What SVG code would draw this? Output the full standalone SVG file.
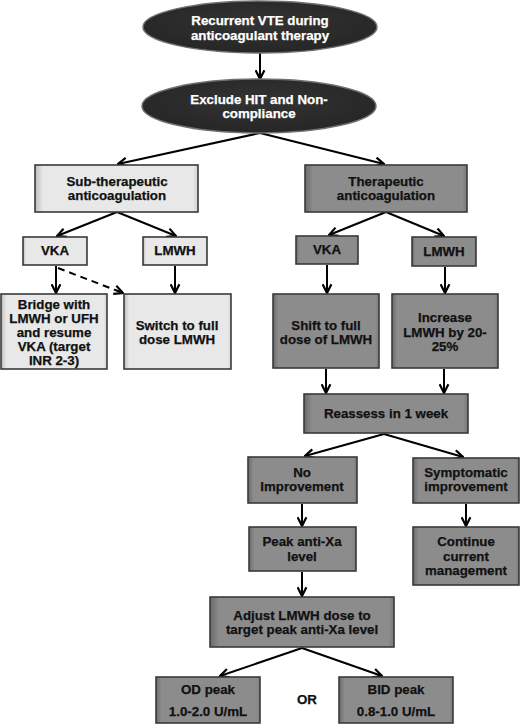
<svg xmlns="http://www.w3.org/2000/svg" width="520" height="724" viewBox="0 0 520 724">
<defs>
<marker id="arr" viewBox="0 0 10 10" refX="9" refY="5" markerWidth="11" markerHeight="11" markerUnits="userSpaceOnUse" orient="auto">
<path d="M1,1 L9,5 L1,9" fill="none" stroke="#000" stroke-width="2"/>
</marker>
<linearGradient id="gDark" x1="0" y1="0" x2="1" y2="0">
<stop offset="0" stop-color="#6a6a6a"/>
<stop offset="0.05" stop-color="#8c8c8c"/>
<stop offset="0.97" stop-color="#8c8c8c"/>
<stop offset="1" stop-color="#787878"/>
</linearGradient>
<linearGradient id="gLight" x1="0" y1="0" x2="1" y2="0">
<stop offset="0" stop-color="#bdbdbd"/>
<stop offset="0.05" stop-color="#e8e8e8"/>
<stop offset="0.97" stop-color="#e8e8e8"/>
<stop offset="1" stop-color="#cfcfcf"/>
</linearGradient>
<radialGradient id="gOval" cx="0.5" cy="0.4" r="0.6">
<stop offset="0" stop-color="#333"/>
<stop offset="1" stop-color="#262626"/>
</radialGradient>
</defs>
<style>
text{font-family:"Liberation Sans",Arial,sans-serif;font-weight:bold;font-size:13.3px;text-anchor:middle;fill:#111;stroke:#111;stroke-width:0.25}
.oval ellipse{fill:url(#gOval);stroke:#707070;stroke-width:1.5}
.oval text{fill:#fff;stroke:#fff}
.light rect{fill:url(#gLight);stroke:#3a3a3a;stroke-width:1.6}
.dark rect{fill:url(#gDark);stroke:#3a3a3a;stroke-width:1.6}
.conn line{stroke:#000;stroke-width:2;marker-end:url(#arr)}
.conn .dash{stroke-dasharray:7,5}
</style>
<rect width="520" height="724" fill="#fff"/>
<g class="conn">
<line x1="260" y1="53" x2="260" y2="79"/>
<line x1="260" y1="133" x2="118" y2="164"/>
<line x1="260" y1="133" x2="384" y2="164"/>
<line x1="117" y1="212" x2="57" y2="236"/>
<line x1="117" y1="212" x2="176" y2="236"/>
<line x1="386" y1="212" x2="329" y2="235"/>
<line x1="386" y1="212" x2="444" y2="236"/>
<line x1="56" y1="266" x2="56" y2="293"/>
<line class="dash" x1="58" y1="268" x2="123" y2="293"/>
<line x1="175" y1="266" x2="175" y2="293"/>
<line x1="327" y1="265" x2="327" y2="293"/>
<line x1="445" y1="267" x2="445" y2="293"/>
<line x1="326" y1="369" x2="326" y2="393"/>
<line x1="444" y1="369" x2="444" y2="393"/>
<line x1="384" y1="434" x2="305" y2="456"/>
<line x1="384" y1="434" x2="463" y2="457"/>
<line x1="302" y1="504" x2="302" y2="526"/>
<line x1="466" y1="504" x2="466" y2="526"/>
<line x1="302" y1="572" x2="302" y2="596"/>
<line x1="302" y1="648" x2="220" y2="676"/>
<line x1="302" y1="648" x2="382" y2="676"/>
</g>
<g id="n-recurrent" class="oval">
<ellipse cx="260" cy="27" rx="117" ry="26"/>
<text x="260" y="25">Recurrent VTE during</text>
<text x="260" y="40">anticoagulant therapy</text>
</g>
<g id="n-exclude" class="oval">
<ellipse cx="259" cy="106" rx="117" ry="27"/>
<text x="259" y="104">Exclude HIT and Non-</text>
<text x="259" y="118">compliance</text>
</g>
<g id="n-sub" class="light">
<rect x="35" y="165" width="163" height="47"/>
<text x="117" y="186">Sub-therapeutic</text>
<text x="117" y="200">anticoagulation</text>
</g>
<g id="n-ther" class="dark">
<rect x="305" y="165" width="162" height="47"/>
<text x="386" y="186">Therapeutic</text>
<text x="386" y="200">anticoagulation</text>
</g>
<g id="n-vka-l" class="light">
<rect x="23" y="237" width="64" height="28"/>
<text x="55" y="255">VKA</text>
</g>
<g id="n-lmwh-l" class="light">
<rect x="143" y="237" width="64" height="28"/>
<text x="175" y="255">LMWH</text>
</g>
<g id="n-vka-r" class="dark">
<rect x="296" y="236" width="62" height="28"/>
<text x="327" y="254">VKA</text>
</g>
<g id="n-lmwh-r" class="dark">
<rect x="412" y="237" width="64" height="29"/>
<text x="444" y="256">LMWH</text>
</g>
<g id="n-bridge" class="light">
<rect x="1" y="294" width="106" height="75"/>
<text x="54" y="308.5">Bridge with</text>
<text x="54" y="322.5">LMWH or UFH</text>
<text x="54" y="336.5">and resume</text>
<text x="54" y="350.5">VKA (target</text>
<text x="54" y="364.5">INR 2-3)</text>
</g>
<g id="n-switch" class="light">
<rect x="124" y="294" width="107" height="75"/>
<text x="177" y="329.5">Switch to full</text>
<text x="177" y="343.5">dose LMWH</text>
</g>
<g id="n-shift" class="dark">
<rect x="273" y="294" width="106" height="74"/>
<text x="326" y="329.5">Shift to full</text>
<text x="326" y="343.5">dose of LMWH</text>
</g>
<g id="n-increase" class="dark">
<rect x="392" y="294" width="106" height="74"/>
<text x="445" y="322">Increase</text>
<text x="445" y="336.5">LMWH by 20-</text>
<text x="445" y="351">25%</text>
</g>
<g id="n-reassess" class="dark">
<rect x="304" y="394" width="164" height="39"/>
<text x="386" y="418">Reassess in 1 week</text>
</g>
<g id="n-noimp" class="dark">
<rect x="248" y="457" width="109" height="46"/>
<text x="302" y="477">No</text>
<text x="302" y="491">Improvement</text>
</g>
<g id="n-symp" class="dark">
<rect x="413" y="458" width="106" height="45"/>
<text x="466" y="477">Symptomatic</text>
<text x="466" y="491">improvement</text>
</g>
<g id="n-peak" class="dark">
<rect x="249" y="527" width="107" height="44"/>
<text x="302" y="546">Peak anti-Xa</text>
<text x="302" y="561">level</text>
</g>
<g id="n-continue" class="dark">
<rect x="413" y="527" width="106" height="58"/>
<text x="466" y="546">Continue</text>
<text x="466" y="561">current</text>
<text x="466" y="575">management</text>
</g>
<g id="n-adjust" class="dark">
<rect x="210" y="597" width="184" height="50"/>
<text x="302" y="620">Adjust LMWH dose to</text>
<text x="302" y="634">target peak anti-Xa level</text>
</g>
<g id="n-od" class="dark">
<rect x="156" y="677" width="104" height="46"/>
<text x="208" y="694">OD peak</text>
<text x="208" y="716">1.0-2.0 U/mL</text>
</g>
<g id="n-or">
<text x="307" y="704">OR</text>
</g>
<g id="n-bid" class="dark">
<rect x="339" y="677" width="114" height="46"/>
<text x="396" y="694">BID peak</text>
<text x="396" y="716">0.8-1.0 U/mL</text>
</g>
</svg>
